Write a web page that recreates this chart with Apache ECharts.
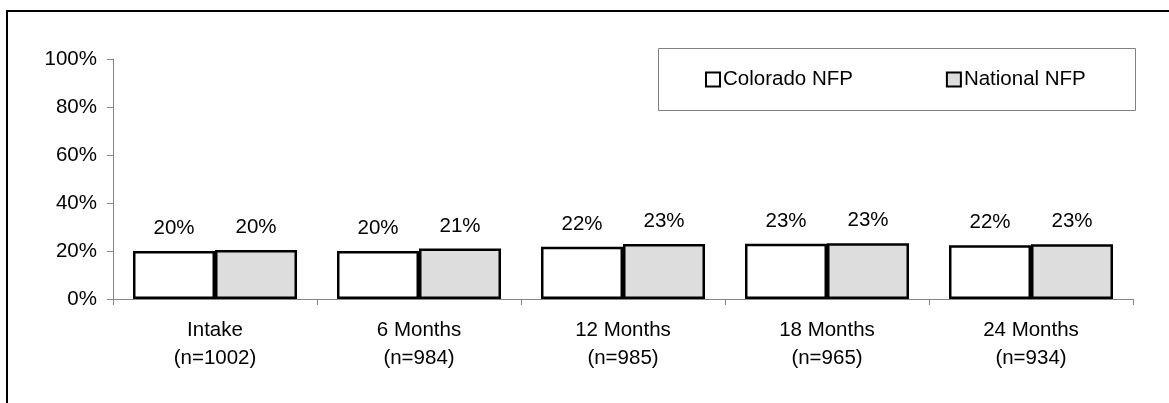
<!DOCTYPE html>
<html>
<head>
<meta charset="utf-8">
<script src="https://cdn.jsdelivr.net/npm/echarts@6/dist/echarts.min.js"></script>
<style>
  html, body { margin: 0; padding: 0; background: #ffffff; }
  #chart { width: 1169px; height: 403px; }
</style>
</head>
<body>
<div id="chart"></div>
<script>
const stages = ['Intake', '6 Months', '12 Months', '18 Months', '24 Months'];
const sampleSizes = [1002, 984, 985, 965, 934];
const coloradoValues = [20.0, 20.0, 21.8, 23.0, 22.4];
const nationalValues = [20.4, 21.0, 22.9, 23.2, 22.8];
const yTicks = [0, 20, 40, 60, 80, 100];
const seriesNames = ['Colorado NFP', 'National NFP'];

const categories = stages.map((s, i) => s + '\n(n=' + sampleSizes[i] + ')');
const FONT = "'Liberation Sans', Arial, sans-serif";
const FS = 20.5;

const chart = echarts.init(document.getElementById('chart'), null, { renderer: 'canvas' });

const labelCfg = {
  show: true,
  position: 'top',
  distance: 12,
  color: '#000',
  fontSize: FS,
  fontFamily: FONT,
  formatter: p => Math.round(p.value) + '%'
};

chart.setOption({
  animation: false,
  backgroundColor: '#ffffff',
  textStyle: { fontFamily: FONT },
  graphic: [
    {
      type: 'rect',
      shape: { x: 7, y: 11, width: 1200, height: 500 },
      style: { fill: 'none', stroke: '#000', lineWidth: 2 },
      silent: true,
      z: 0
    },
    {
      type: 'rect',
      shape: { x: 658.5, y: 48.5, width: 477, height: 62 },
      style: { fill: '#fff', stroke: '#808080', lineWidth: 1 },
      silent: true,
      z: 1
    }
  ],
  legend: {
    left: 705,
    top: 69,
    padding: 0,
    itemGap: 93,
    itemWidth: 14,
    itemHeight: 14,
    icon: 'rect',
    z: 5,
    textStyle: { color: '#000', fontSize: FS, fontFamily: FONT, padding: [0, 0, 0, -2] },
    data: seriesNames
  },
  grid: {
    left: 113,
    right: 36,
    top: 59,
    bottom: 104,
    containLabel: false
  },
  xAxis: {
    type: 'category',
    data: categories,
    axisLine: { show: true, lineStyle: { color: '#868686', width: 1 } },
    axisTick: { show: true, length: 6, lineStyle: { color: '#868686' } },
    axisLabel: {
      color: '#000',
      fontSize: FS,
      fontFamily: FONT,
      lineHeight: 28,
      margin: 17,
      interval: 0
    },
    splitLine: { show: false }
  },
  yAxis: {
    type: 'value',
    min: yTicks[0],
    max: yTicks[yTicks.length - 1],
    interval: yTicks[1] - yTicks[0],
    axisLine: { show: true, lineStyle: { color: '#868686', width: 1 } },
    axisTick: { show: true, length: 6, lineStyle: { color: '#868686' } },
    axisLabel: {
      color: '#000',
      fontSize: FS,
      fontFamily: FONT,
      margin: 16,
      formatter: '{value}%'
    },
    splitLine: { show: false }
  },
  series: [
    {
      name: seriesNames[0],
      type: 'bar',
      data: coloradoValues,
      barGap: '0%',
      barCategoryGap: '19.6%',
      itemStyle: { color: '#ffffff', borderColor: '#000', borderWidth: 2.5 },
      label: labelCfg
    },
    {
      name: seriesNames[1],
      type: 'bar',
      data: nationalValues,
      barGap: '0%',
      barCategoryGap: '19.6%',
      itemStyle: { color: '#dddddd', borderColor: '#000', borderWidth: 2.5 },
      label: labelCfg
    }
  ]
});
</script>
</body>
</html>
